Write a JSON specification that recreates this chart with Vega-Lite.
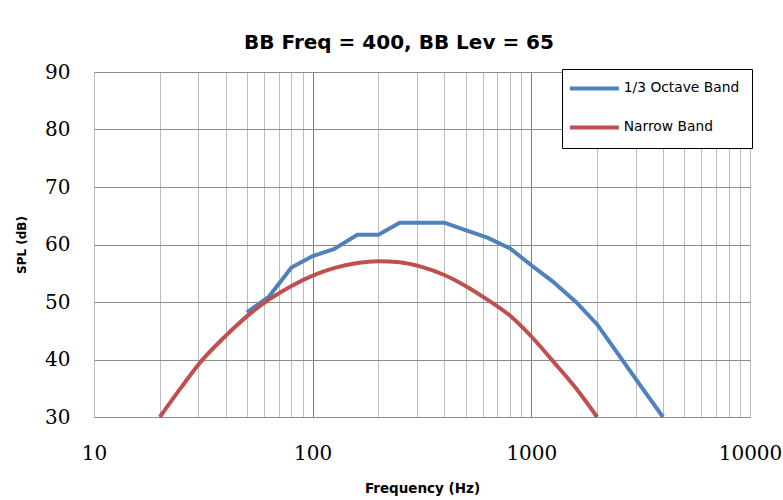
{
  "$schema": "https://vega.github.io/schema/vega-lite/v6.json",
  "autosize": {"type": "none"},
  "padding": {"left": 94, "top": 72, "right": 33, "bottom": 83},
  "width": 656,
  "height": 345,
  "background": "white",
  "title": {
    "text": "BB Freq = 400, BB Lev = 65",
    "font": "DejaVu Sans",
    "fontSize": 20,
    "fontWeight": "bold",
    "color": "#000000",
    "anchor": "middle",
    "dx": -23,
    "offset": 9
  },
  "data": {
    "values": [
      {"series": "1/3 Octave Band", "freq": 50, "spl": 48.2},
      {"series": "1/3 Octave Band", "freq": 63, "spl": 50.9},
      {"series": "1/3 Octave Band", "freq": 80, "spl": 56.0},
      {"series": "1/3 Octave Band", "freq": 100, "spl": 58.0},
      {"series": "1/3 Octave Band", "freq": 125, "spl": 59.2},
      {"series": "1/3 Octave Band", "freq": 160, "spl": 61.7},
      {"series": "1/3 Octave Band", "freq": 200, "spl": 61.7},
      {"series": "1/3 Octave Band", "freq": 250, "spl": 63.8},
      {"series": "1/3 Octave Band", "freq": 315, "spl": 63.8},
      {"series": "1/3 Octave Band", "freq": 400, "spl": 63.8},
      {"series": "1/3 Octave Band", "freq": 500, "spl": 62.5},
      {"series": "1/3 Octave Band", "freq": 630, "spl": 61.2},
      {"series": "1/3 Octave Band", "freq": 800, "spl": 59.3},
      {"series": "1/3 Octave Band", "freq": 1000, "spl": 56.4},
      {"series": "1/3 Octave Band", "freq": 1250, "spl": 53.6},
      {"series": "1/3 Octave Band", "freq": 1600, "spl": 50.0},
      {"series": "1/3 Octave Band", "freq": 2000, "spl": 46.1},
      {"series": "1/3 Octave Band", "freq": 2500, "spl": 40.9},
      {"series": "1/3 Octave Band", "freq": 3150, "spl": 35.5},
      {"series": "1/3 Octave Band", "freq": 4000, "spl": 30.0},
      {"series": "Narrow Band", "freq": 20, "spl": 30.0},
      {"series": "Narrow Band", "freq": 25, "spl": 35.1},
      {"series": "Narrow Band", "freq": 30, "spl": 39.1},
      {"series": "Narrow Band", "freq": 40, "spl": 44.1},
      {"series": "Narrow Band", "freq": 50, "spl": 47.5},
      {"series": "Narrow Band", "freq": 63, "spl": 50.4},
      {"series": "Narrow Band", "freq": 80, "spl": 52.8},
      {"series": "Narrow Band", "freq": 100, "spl": 54.6},
      {"series": "Narrow Band", "freq": 125, "spl": 55.9},
      {"series": "Narrow Band", "freq": 160, "spl": 56.8},
      {"series": "Narrow Band", "freq": 200, "spl": 57.1},
      {"series": "Narrow Band", "freq": 250, "spl": 56.9},
      {"series": "Narrow Band", "freq": 315, "spl": 56.1},
      {"series": "Narrow Band", "freq": 400, "spl": 54.7},
      {"series": "Narrow Band", "freq": 500, "spl": 52.8},
      {"series": "Narrow Band", "freq": 630, "spl": 50.4},
      {"series": "Narrow Band", "freq": 800, "spl": 47.6},
      {"series": "Narrow Band", "freq": 1000, "spl": 44.0},
      {"series": "Narrow Band", "freq": 1250, "spl": 39.8},
      {"series": "Narrow Band", "freq": 1600, "spl": 35.0},
      {"series": "Narrow Band", "freq": 2000, "spl": 30.0}
    ]
  },
  "encoding": {
    "x": {
      "field": "freq",
      "type": "quantitative",
      "scale": {"type": "log", "domain": [10, 10000], "nice": false},
      "axis": {
        "title": "Frequency (Hz)",
        "values": [10, 20, 30, 40, 50, 60, 70, 80, 90, 100, 200, 300, 400, 500, 600, 700, 800, 900, 1000, 2000, 3000, 4000, 5000, 6000, 7000, 8000, 9000, 10000],
        "format": "d",
        "labelExpr": "indexof(['10', '100', '1000', '10000'], datum.label) >= 0 ? datum.label : ''",
        "labelFont": "DejaVu Serif",
        "labelFontSize": 20,
        "labelColor": "#000000",
        "labelPadding": 26,
        "labelFlush": false,
        "labelOverlap": false,
        "ticks": false,
        "domain": false,
        "grid": true,
        "gridColor": {"condition": {"test": "datum.value == 100 || datum.value == 1000", "value": "#808080"}, "value": "#bdbdbd"},
        "gridWidth": 1,
        "titleFont": "DejaVu Sans",
        "titleFontSize": 13.5,
        "titleFontWeight": "bold",
        "titleColor": "#000000",
        "titlePadding": 18
      }
    },
    "y": {
      "field": "spl",
      "type": "quantitative",
      "scale": {"domain": [30, 90], "nice": false, "zero": false},
      "axis": {
        "title": "SPL (dB)",
        "values": [30, 40, 50, 60, 70, 80, 90],
        "labelFont": "DejaVu Serif",
        "labelFontSize": 20,
        "labelColor": "#000000",
        "labelPadding": 24,
        "ticks": false,
        "domain": false,
        "grid": true,
        "gridColor": "#8c8c8c",
        "titleFont": "DejaVu Sans",
        "titleFontSize": 12,
        "titleFontWeight": "bold",
        "titleColor": "#000000",
        "titlePadding": 16
      }
    },
    "color": {
      "field": "series",
      "type": "nominal",
      "scale": {"domain": ["1/3 Octave Band", "Narrow Band"], "range": ["#4F81BD", "#C0504D"]},
      "legend": {
        "title": null,
        "orient": "none",
        "legendX": 468,
        "legendY": -3,
        "direction": "vertical",
        "strokeColor": "#000000",
        "fillColor": "#ffffff",
        "padding": 12.5,
        "symbolType": "M-5.75,0H18.75",
        "symbolSize": 16,
        "symbolStrokeWidth": 4,
        "labelFont": "DejaVu Sans",
        "labelFontSize": 13.8,
        "labelColor": "#000000",
        "labelOffset": 35.5,
        "rowPadding": 22
      }
    }
  },
  "layer": [
    {
      "transform": [{"filter": "datum.series == '1/3 Octave Band'"}],
      "mark": {"type": "line", "strokeWidth": 4, "interpolate": "linear"}
    },
    {
      "transform": [{"filter": "datum.series == 'Narrow Band'"}],
      "mark": {"type": "line", "strokeWidth": 4, "interpolate": "monotone"}
    }
  ],
  "config": {
    "view": {"stroke": "#8c8c8c", "strokeWidth": 1}
  }
}
